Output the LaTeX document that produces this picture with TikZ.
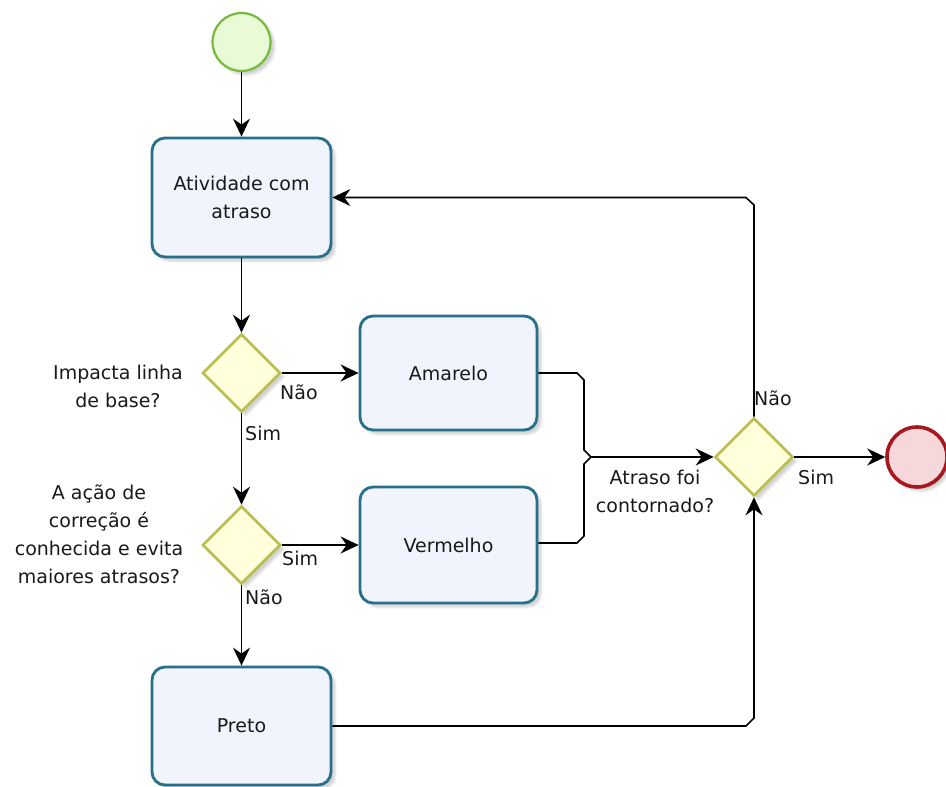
\documentclass[tikz,border=0pt]{standalone}
\usepackage{fontspec}
\setmainfont{DejaVu Sans}
\usetikzlibrary{shapes.geometric,arrows.meta,shadows.blur}

\definecolor{taskline}{RGB}{38,112,140}
\definecolor{taskfill}{RGB}{241,244,252}
\definecolor{gateline}{RGB}{186,190,80}
\definecolor{gatefill}{RGB}{255,255,220}
\definecolor{startline}{RGB}{118,186,60}
\definecolor{startfill}{RGB}{232,250,214}
\definecolor{endline}{RGB}{168,22,32}
\definecolor{endfill}{RGB}{246,216,218}
\definecolor{txt}{RGB}{25,25,25}

\tikzset{
  base/.style={font=\fontsize{19}{28}\selectfont, text=txt},
  soft/.style={blur shadow={shadow xshift=4pt, shadow yshift=-4pt,
      shadow blur steps=6, shadow opacity=18}},
  task/.style={base, soft, draw=taskline, fill=taskfill, line width=2.8pt,
      rounded corners=13pt, minimum width=179pt, minimum height=119pt,
      align=center, inner sep=2pt},
  gate/.style={soft, diamond, aspect=1, draw=gateline, fill=gatefill,
      line width=2.6pt, minimum width=78pt, minimum height=78pt, inner sep=0pt},
  startev/.style={soft, circle, draw=startline, fill=startfill, line width=2.2pt,
      minimum size=58pt, inner sep=0pt},
  endev/.style={soft, circle, draw=endline, fill=endfill, line width=3.6pt,
      minimum size=60pt, inner sep=0pt},
  flow/.style={line width=1.6pt, draw=black,
      -{Stealth[length=18pt, width=17pt, inset=6pt]}},
  plain/.style={line width=1.6pt, draw=black},
  lbl/.style={base, inner sep=0pt, align=center},
}

\begin{document}
\begin{tikzpicture}[x=1pt, y=-1pt]
  \useasboundingbox (0,0) rectangle (946,787);

  % events, tasks and gateways
  \node[startev] (start) at (241.5,42) {};
  \node[task] (atv) at (241.5,197.5) {Atividade com\\atraso};
  \node[gate] (g1) at (241.5,373) {};
  \node[task, minimum width=177pt, minimum height=114pt] (am) at (448.5,373) {Amarelo};
  \node[gate] (g2) at (241.5,545) {};
  \node[task, minimum width=177pt, minimum height=116pt] (ve) at (448.5,545) {Vermelho};
  \node[task, minimum height=118pt] (pr) at (241.5,726) {Preto};
  \node[gate] (g3) at (754,457) {};
  \node[endev] (fim) at (917,457) {};

  % waypoints of the connectors
  \coordinate (ma1) at (577,373);
  \coordinate (ma2) at (584,380);
  \coordinate (ma3) at (584,450);
  \coordinate (mj)  at (591,457);
  \coordinate (mb3) at (584,464);
  \coordinate (mb2) at (584,536);
  \coordinate (mb1) at (577,543);
  \coordinate (up1) at (754,205);
  \coordinate (up2) at (746,197.5);
  \coordinate (lo1) at (746,726);
  \coordinate (lo2) at (754,718);

  % sequence flows
  \draw[flow] (start) -- (atv);
  \draw[flow] (atv) -- (g1);
  \draw[flow] (g1.east) -- (am.west);
  \draw[flow] (g1.south) -- (g2.north);
  \draw[flow] (g2.east) -- (ve.west);
  \draw[flow] (g2.south) -- (pr.north);
  \draw[plain] (am.east) -- (ma1) -- (ma2) -- (ma3) -- (mj);
  \draw[plain] (ve.east |- mb1) -- (mb1) -- (mb2) -- (mb3) -- (mj);
  \draw[flow] (mj) -- (g3.west);
  \draw[flow] (g3.north) -- (up1) -- (up2) -- (atv.east);
  \draw[flow] (pr.east) -- (lo1) -- (lo2) -- (g3.south);
  \draw[flow] (g3.east) -- (fim.west);

  % texts
  \node[lbl] (q1) at (118,386) {Impacta linha\\de base?};
  \node[lbl] (q2) at (99,534) {A ação de\\correção é\\conhecida e evita\\maiores atrasos?};
  \node[lbl] (q3) at (655,491) {Atraso foi\\contornado?};
  \node[lbl, anchor=west] (n1) at (280,392) {Não};
  \node[lbl, anchor=west] (s1) at (245,433) {Sim};
  \node[lbl, anchor=west] (s2) at (282,558) {Sim};
  \node[lbl, anchor=west] (n2) at (245,597) {Não};
  \node[lbl, anchor=west] (n3) at (754,398) {Não};
  \node[lbl, anchor=west] (s3) at (798,477) {Sim};
\end{tikzpicture}
\end{document}
